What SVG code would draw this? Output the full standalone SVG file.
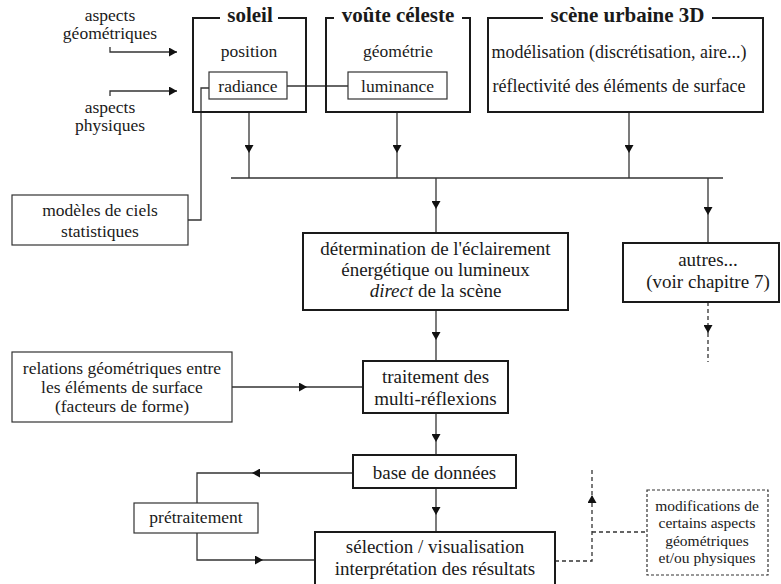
<svg xmlns="http://www.w3.org/2000/svg" width="781" height="584" viewBox="0 0 781 584">
<style>
text{font-family:"Liberation Serif","Times New Roman",serif;fill:#1a1a1a;text-anchor:middle}
.t{font-size:21px;font-weight:bold}
.m{font-size:19px}
.s{font-size:17.5px}
.u{font-size:18px}
.x{font-size:15.5px}
.thick{fill:#fff;stroke:#1a1a1a;stroke-width:2}
.frame{fill:none;stroke:#1a1a1a;stroke-width:2}
.thin{fill:#fff;stroke:#333;stroke-width:1.2}
.dbox{fill:#fff;stroke:#333;stroke-width:1.2;stroke-dasharray:3 2}
.c{fill:none;stroke:#333;stroke-width:1.3}
.d{fill:none;stroke:#333;stroke-width:1.3;stroke-dasharray:4 3}
</style>
<defs>
<marker id="arr" viewBox="0 0 8 9" refX="8" refY="4.5" markerWidth="8" markerHeight="9" markerUnits="userSpaceOnUse" orient="auto">
<path d="M0,0 L8,4.5 L0,9 z" fill="#111"/>
</marker>
</defs>

<g id="connectors">
<path class="c" d="M110,47 V52 H177" marker-end="url(#arr)"/>
<path class="c" d="M110,96 V91 H177" marker-end="url(#arr)"/>
<path class="c" d="M209,88 H201 V220 H188"/>
<path class="c" d="M287,86 H348"/>
<path class="c" d="M249,112 V153" marker-end="url(#arr)"/>
<path class="c" d="M249,153 V178"/>
<path class="c" d="M397,112 V153" marker-end="url(#arr)"/>
<path class="c" d="M397,153 V178"/>
<path class="c" d="M629,112 V153" marker-end="url(#arr)"/>
<path class="c" d="M629,153 V178"/>
<path class="c" d="M231,178 H723"/>
<path class="c" d="M436,178 V209" marker-end="url(#arr)"/>
<path class="c" d="M436,209 V233"/>
<path class="c" d="M708,178 V215" marker-end="url(#arr)"/>
<path class="c" d="M708,215 V243"/>
<path class="d" d="M708,302 V333" marker-end="url(#arr)"/>
<path class="d" d="M708,333 V362"/>
<path class="c" d="M436,310 V340" marker-end="url(#arr)"/>
<path class="c" d="M436,340 V361"/>
<path class="c" d="M232,387 H307" marker-end="url(#arr)"/>
<path class="c" d="M307,387 H363"/>
<path class="c" d="M436,413 V442" marker-end="url(#arr)"/>
<path class="c" d="M436,442 V455"/>
<path class="c" d="M436,488 V515" marker-end="url(#arr)"/>
<path class="c" d="M436,515 V532"/>
<path class="c" d="M353,473 H252" marker-end="url(#arr)"/>
<path class="c" d="M252,473 H197 V503"/>
<path class="c" d="M197,533 V560 H263" marker-end="url(#arr)"/>
<path class="c" d="M263,560 H315"/>
<path class="d" d="M555,561 H592 V495" marker-end="url(#arr)"/>
<path class="d" d="M592,495 V468"/>
<path class="d" d="M592,532 H647"/>
</g>

<g id="aspects-geometriques">
<text class="s" x="110" y="21">aspects</text>
<text class="s" x="110" y="39">géométriques</text>
</g>
<g id="aspects-physiques">
<text class="s" x="110" y="113">aspects</text>
<text class="s" x="110" y="131">physiques</text>
</g>

<g id="soleil">
<path class="frame" d="M220,18 H193 V112 H306 V18 H278"/>
<text class="t" x="250" y="22">soleil</text>
<text class="s" x="249" y="57">position</text>
</g>
<g id="radiance">
<rect class="thin" x="209" y="72" width="78" height="27"/>
<text class="s" x="248" y="92">radiance</text>
</g>

<g id="voute-celeste">
<path class="frame" d="M334,18 H326 V112 H470 V18 H462"/>
<text class="t" x="398" y="22">voûte céleste</text>
<text class="s" x="398" y="57">géométrie</text>
</g>
<g id="luminance">
<rect class="thin" x="348" y="72" width="99" height="27"/>
<text class="s" x="397.5" y="92">luminance</text>
</g>

<g id="scene-urbaine">
<path class="frame" d="M543,18 H488 V112 H763 V18 H712"/>
<text class="t" x="627.5" y="22">scène urbaine 3D</text>
<text class="u" x="619" y="58">modélisation (discrétisation, aire...)</text>
<text class="u" x="619" y="92">réflectivité des éléments de surface</text>
</g>

<g id="modeles-ciels">
<rect class="thin" x="12" y="195" width="176" height="50"/>
<text class="s" x="100" y="216">modèles de ciels</text>
<text class="s" x="100" y="237">statistiques</text>
</g>

<g id="determination">
<rect class="thick" x="303" y="233" width="265" height="77"/>
<text class="m" x="435.5" y="255">détermination de l'éclairement</text>
<text class="m" x="435.5" y="276">énergétique ou lumineux</text>
<text class="m" x="435.5" y="297"><tspan font-style="italic">direct</tspan> de la scène</text>
</g>

<g id="autres">
<rect class="thick" x="623" y="243" width="156" height="59"/>
<text class="m" x="708" y="266">autres...</text>
<text class="m" x="708" y="288">(voir chapitre 7)</text>
</g>

<g id="relations">
<rect class="thin" x="12" y="352" width="220" height="70"/>
<text class="s" x="122" y="374">relations géométriques entre</text>
<text class="s" x="122" y="393">les éléments de surface</text>
<text class="s" x="122" y="412">(facteurs de forme)</text>
</g>

<g id="traitement">
<rect class="thick" x="363" y="361" width="145" height="52"/>
<text class="m" x="435.5" y="383">traitement des</text>
<text class="m" x="435.5" y="405">multi-réflexions</text>
</g>

<g id="base-donnees">
<rect class="thick" x="353" y="455" width="163" height="33"/>
<text class="m" x="434.5" y="479">base de données</text>
</g>

<g id="pretraitement">
<rect class="thin" x="134" y="503" width="124" height="30"/>
<text class="s" x="196" y="523">prétraitement</text>
</g>

<g id="selection">
<rect class="thick" x="315" y="532" width="240" height="62"/>
<text class="m" x="435" y="553">sélection / visualisation</text>
<text class="m" x="435" y="575">interprétation des résultats</text>
</g>

<g id="modifications">
<rect class="dbox" x="647" y="490" width="121" height="85"/>
<text class="x" x="707" y="511">modifications de</text>
<text class="x" x="707" y="528">certains aspects</text>
<text class="x" x="707" y="546">géométriques</text>
<text class="x" x="707" y="563">et/ou physiques</text>
</g>
</svg>
